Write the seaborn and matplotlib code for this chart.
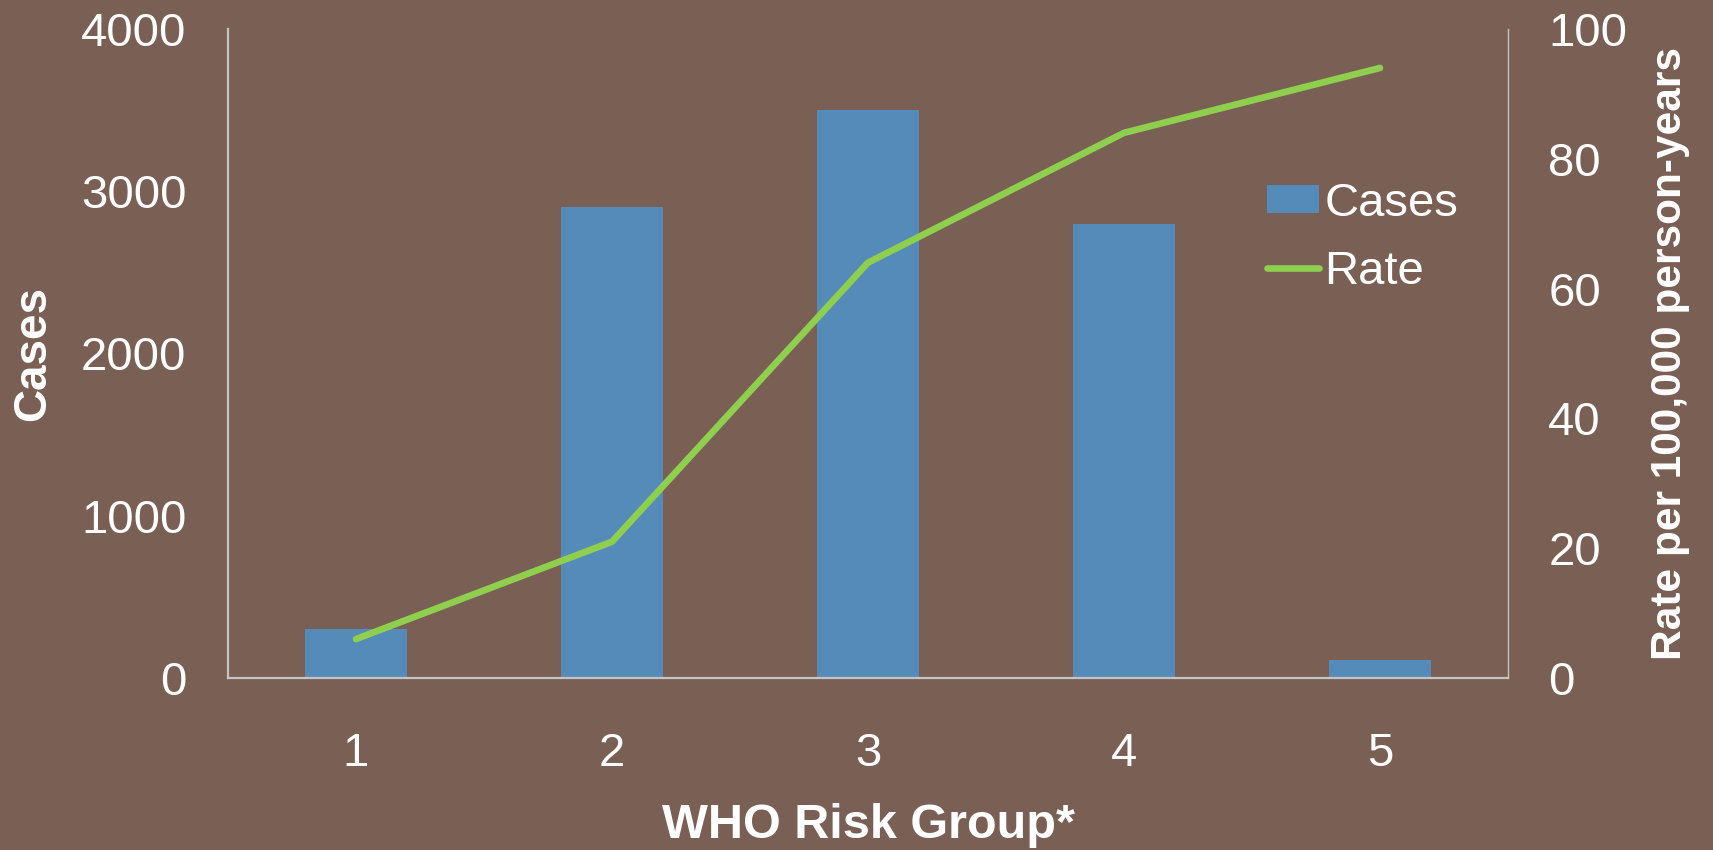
import matplotlib
matplotlib.use("Agg")
import matplotlib.pyplot as plt
import seaborn as sns
import pandas as pd
from matplotlib.patches import Patch
from matplotlib.lines import Line2D

groups = ["1", "2", "3", "4", "5"]
cases = [300, 2900, 3500, 2800, 110]
rate = [6, 21, 64, 84, 94]

BG = "#7A5F55"
BAR = "#558BB9"
LINE = "#8FCF4E"
SPINE = "#C4C4C4"
FS = 34

sns.set_theme(style="white")
plt.rcParams["font.family"] = ["Liberation Sans", "DejaVu Sans"]

df = pd.DataFrame({"group": groups, "cases": cases, "rate": rate})

fig = plt.figure(figsize=(17.13, 8.5), dpi=100, facecolor=BG)
ax = fig.add_axes([228 / 1713, 1 - 678 / 850, 1280 / 1713, 649 / 850])
ax.set_facecolor(BG)

sns.barplot(data=df, x="group", y="cases", color=BAR, width=0.40,
            saturation=1, ax=ax, zorder=2, edgecolor="none", linewidth=0)
ax.set_ylim(0, 4000)
ax.set_yticks([0, 1000, 2000, 3000, 4000])
ax.set_xlim(-0.5, 4.5)

ax2 = ax.twinx()
sns.lineplot(data=df, x="group", y="rate", color=LINE, linewidth=4.8,
             ax=ax2, solid_capstyle="round", zorder=3)
ax2.set_ylim(0, 100)
ax2.set_yticks([0, 20, 40, 60, 80, 100])

for a in (ax, ax2):
    a.tick_params(axis="both", length=0, labelsize=FS, colors="white")
    a.spines["top"].set_visible(False)
    for s in a.spines.values():
        s.set_color(SPINE)
ax.tick_params(axis="x", pad=39)
ax.tick_params(axis="y", pad=30)
ax2.tick_params(axis="y", pad=29)
ax.spines["right"].set_visible(False)
ax.spines["left"].set_linewidth(1.6)
ax.spines["bottom"].set_linewidth(1.6)
ax2.spines["left"].set_visible(False)
ax2.spines["bottom"].set_visible(False)
ax2.spines["right"].set_linewidth(1.0)

ax.set_xlabel("WHO Risk Group*", fontsize=35, fontweight="bold", color="white")
ax.set_ylabel("Cases", fontsize=33, fontweight="bold", color="white")
ax2.set_ylabel("Rate per 100,000 person-years", fontsize=30.5,
               fontweight="bold", color="white")
ax.xaxis.label.set_va("center")
ax.xaxis.set_label_coords(0.5, (678 - 826) / 649)
ax.yaxis.label.set_va("center")
ax.yaxis.set_label_coords((33 - 228) / 1280, 0.5)
ax2.yaxis.label.set_va("center")
ax2.yaxis.label.set_rotation(90)
ax2.yaxis.set_label_coords((1670 - 228) / 1280, 0.5)

handles = [Patch(facecolor=BAR, edgecolor="none"),
           Line2D([0], [0], color=LINE, linewidth=4.8, solid_capstyle="round")]
leg = ax2.legend(handles, ["Cases", "Rate"], loc="upper left",
                 bbox_to_anchor=(1267 / 1713, 1 - 182 / 850),
                 bbox_transform=fig.transFigure, frameon=False,
                 fontsize=FS, handlelength=1.1, handletextpad=0.12,
                 handleheight=0.53, labelspacing=0.5, borderpad=0,
                 borderaxespad=0)
for t in leg.get_texts():
    t.set_color("white")

fig.savefig("out.png", dpi=100, facecolor=BG)
